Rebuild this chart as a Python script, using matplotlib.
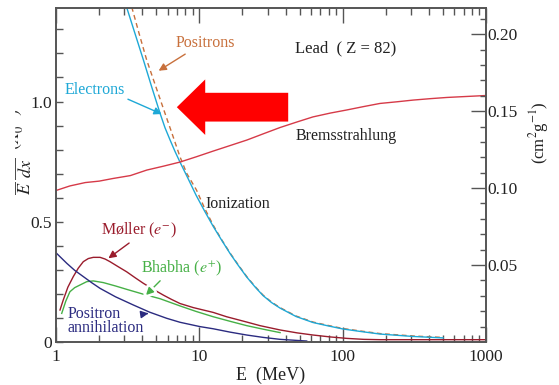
import numpy as np
import matplotlib
matplotlib.use("Agg")
import matplotlib.pyplot as plt
from matplotlib.patches import FancyArrow, Rectangle
import matplotlib.patheffects as pe

plt.rcParams['font.family'] = ['Liberation Serif', 'DejaVu Serif']
plt.rcParams['mathtext.fontset'] = 'stix'

# Data: (E in MeV, -1/E dE/dx in X0^-1)
E_brems = [1, 1.25, 1.6, 2.0, 2.5, 3.3, 4.3, 5.6, 7.3, 9.5, 12.5, 16.4, 21.5, 28, 36.6, 48, 62,
           82, 107, 140, 182, 240, 310, 410, 535, 730, 1000]
v_brems = [0.630, 0.649, 0.663, 0.669, 0.680, 0.692, 0.715, 0.731, 0.748, 0.770, 0.794, 0.817,
           0.840, 0.866, 0.892, 0.915, 0.936, 0.952, 0.965, 0.979, 0.992, 0.999, 1.006, 1.012,
           1.017, 1.021, 1.025]

E_elec = [2.89, 3.11, 3.56, 4.07, 4.65, 5.32, 5.76, 6.25, 6.77, 7.33, 8.34, 9.48, 10.87, 12.46,
          14.29, 16.38, 18.62, 21.42, 24.47, 27.83, 31.9, 36.57, 47.3, 62.1, 79.1, 100.6, 132.3,
          182.4, 310, 502]
v_elec = [1.454, 1.392, 1.282, 1.173, 1.061, 0.951, 0.891, 0.840, 0.792, 0.748, 0.680, 0.611,
          0.545, 0.482, 0.424, 0.368, 0.320, 0.270, 0.229, 0.193, 0.164, 0.141, 0.106, 0.081,
          0.067, 0.054, 0.044, 0.033, 0.023, 0.017]

E_posi = [3.13, 3.38, 3.79, 4.29, 4.97, 5.76, 6.50, 7.33, 8.17, 9.55, 10.87, 12.46, 14.29, 16.38,
          18.62, 21.42, 24.47, 27.83, 31.9, 36.57, 47.3, 62.1, 79.1, 100.6, 132.3, 182.4, 310, 502]
v_posi = [1.460, 1.392, 1.285, 1.173, 1.062, 0.951, 0.861, 0.770, 0.701, 0.632, 0.557, 0.487,
          0.426, 0.370, 0.322, 0.272, 0.231, 0.195, 0.166, 0.143, 0.108, 0.083, 0.069, 0.056,
          0.046, 0.035, 0.025, 0.019]

E_moller = [1.066, 1.124, 1.21, 1.32, 1.43, 1.55, 1.68, 1.82, 2.03, 2.2, 2.38, 2.7, 3.11, 3.55,
            4.07, 4.8, 5.61, 6.4, 7.33, 9.08, 12.5, 15.5, 21.4, 26.5, 36.6, 48, 62.1, 82, 107,
            140, 182, 1000]
v_moller = [0.133, 0.175, 0.228, 0.272, 0.307, 0.334, 0.347, 0.352, 0.352, 0.345, 0.334, 0.314,
            0.292, 0.268, 0.244, 0.218, 0.195, 0.177, 0.160, 0.143, 0.123, 0.105, 0.083, 0.068,
            0.050, 0.038, 0.029, 0.021, 0.015, 0.011, 0.0096, 0.0096]

E_bhabha = [1.096, 1.17, 1.25, 1.35, 1.47, 1.64, 1.82, 2.14, 2.6, 3.11, 4.0, 5.32, 7.33, 9.5,
            12.5, 16.4, 21.4, 28, 36.6]
v_bhabha = [0.119, 0.170, 0.209, 0.226, 0.237, 0.251, 0.254, 0.247, 0.233, 0.219, 0.200, 0.180,
            0.150, 0.127, 0.105, 0.086, 0.068, 0.053, 0.039]

E_annih = [1.0, 1.19, 1.35, 1.55, 1.78, 2.03, 2.6, 3.46, 4.5, 5.92, 7.33, 10.1, 12.5, 16.4,
           21.4, 28, 36.6, 56.1]
v_annih = [0.371, 0.327, 0.298, 0.272, 0.246, 0.223, 0.188, 0.154, 0.124, 0.0985, 0.082, 0.064,
           0.055, 0.041, 0.029, 0.019, 0.011, 0.004]

X0 = 6.40  # g/cm^2 for lead, sets the right axis

fig = plt.figure(figsize=(5.59, 3.85), dpi=100)
ax = fig.add_axes([0.1002, 0.1117, 0.7692, 0.8688])

c_elec = "#1ea8d6"
c_posi = "#c8703c"
c_brems = "#d63a48"
c_moller = "#9a1c2c"
c_bhabha = "#46b046"
c_annih = "#2b2b80"
c_text = "#222222"

ax.plot(E_posi, v_posi, color=c_posi, lw=1.0, ls=(0, (3.5, 2.5)))
ax.plot(E_elec, v_elec, color=c_elec, lw=1.0)
ax.plot(E_brems, v_brems, color=c_brems, lw=1.0)
ax.plot(E_moller, v_moller, color=c_moller, lw=1.0)
ax.plot(E_bhabha, v_bhabha, color=c_bhabha, lw=1.0)
ax.plot(E_annih, v_annih, color=c_annih, lw=1.0)

ax.set_xscale("log")
ax.set_xlim(1, 1000)
ax.set_ylim(0, 1.391)
ax.set_xticks([1, 10, 100, 1000])
ax.set_xticklabels(["1", "10", "100", "1000"])
ax.set_yticks([0, 0.5, 1.0])
ax.set_yticklabels(["0", "0.5", "1.0"])
ax.set_yticks(np.arange(0.1, 1.4, 0.1), minor=True)
ax.tick_params(axis="x", which="major", direction="in", length=10.5, width=1.0, top=True,
               labelsize=12.5, colors="#555555", labelcolor=c_text, pad=5)
ax.tick_params(axis="x", which="minor", direction="in", length=5, width=1.0, top=True, colors="#555555")
ax.tick_params(axis="y", which="both", direction="in", length=5, width=1.0, right=False,
               labelsize=12.5, colors="#555555", labelcolor=c_text, pad=3)
for s in ax.spines.values():
    s.set_color("#555555")
    s.set_linewidth(1.2)

ax2 = ax.twinx()
ax2.set_ylim(0, 1.391 / X0)
ax2.set_yticks([0.05, 0.10, 0.15, 0.20])
ax2.set_yticklabels(["0.05", "0.10", "0.15", "0.20"])
ax2.set_yticks(np.arange(0.01, 0.22, 0.01), minor=True)
ax2.tick_params(axis="y", which="major", direction="in", length=11, width=1.0,
                labelsize=12.5, colors="#555555", labelcolor=c_text, pad=1)
ax2.tick_params(axis="y", which="minor", direction="in", length=4.5, width=1.0, colors="#555555")
for s in ax2.spines.values():
    s.set_color("#555555")
    s.set_linewidth(1.2)

ax.set_xlabel("E  (MeV)", fontsize=13, color=c_text, labelpad=1)
fig.text(0.9645, 0.655, r"(cm$^2$g$^{-1}$)", rotation=90, ha="center", va="center",
         fontsize=12, color=c_text)

# left label, partly cut off like in the source
fig.text(0.029, 0.59, r"$-\dfrac{1}{E}\,\dfrac{dE}{dx}\;\;(X_0^{-1})$", rotation=90,
         ha="center", va="center", fontsize=13, color=c_text)
fig.patches.append(Rectangle((0, 0), 0.025, 1, transform=fig.transFigure, color="white", zorder=10))

# big red arrow
ax.add_patch(FancyArrow(0.540, 0.702, -0.259, 0, width=0.086, head_width=0.166,
                        head_length=0.066, length_includes_head=True, color="#ff0000",
                        lw=0, transform=ax.transAxes, zorder=5))

ax.text(0.555, 0.878, "Lead  ( Z = 82)", transform=ax.transAxes, fontsize=12, color=c_text, va="center")
ax.text(0.558, 0.616, "Bremsstrahlung", transform=ax.transAxes, fontsize=11.5, color=c_text, va="center")
ax.text(0.347, 0.412, "Ionization", transform=ax.transAxes, fontsize=11.5, color=c_text, va="center")

arr = dict(arrowstyle="-|>", lw=1.0, mutation_scale=11, shrinkA=0, shrinkB=0)
ax.annotate("Positrons", xy=(5.2, 1.128), xytext=(10.97, 1.242), fontsize=11.5, color=c_posi,
            ha="center", va="center",
            arrowprops=dict(arr, color=c_posi, relpos=(0.24, 0.0)))
ax.annotate("Electrons", xy=(5.46, 0.948), xytext=(1.87, 1.048), fontsize=11.5, color=c_elec,
            ha="center", va="center",
            arrowprops=dict(arr, color=c_elec, relpos=(1.0, 0.0)))
ax.annotate(r"Møller ($e^{-}$)", xy=(2.32, 0.348), xytext=(3.79, 0.463), fontsize=11.5,
            color=c_moller, ha="center", va="center",
            arrowprops=dict(arr, color=c_moller, relpos=(0.42, 0.0)))
ax.annotate(r"Bhabha ($e^{+}$)", xy=(4.24, 0.195), xytext=(7.47, 0.306), fontsize=11.5,
            color=c_bhabha, ha="center", va="center",
            arrowprops=dict(arr, color=c_bhabha, relpos=(0.275, 0.0),
                            path_effects=[pe.Stroke(linewidth=5, foreground="white"), pe.Normal()]))
ax.annotate("Positron\nannihilation", xy=(4.41, 0.119), xytext=(1.21, 0.088), fontsize=11.5,
            color=c_annih, ha="left", va="center", linespacing=0.85,
            arrowprops=dict(arr, color=c_annih, relpos=(0.716, 0.62)))

fig.savefig("out.png", dpi=100)
